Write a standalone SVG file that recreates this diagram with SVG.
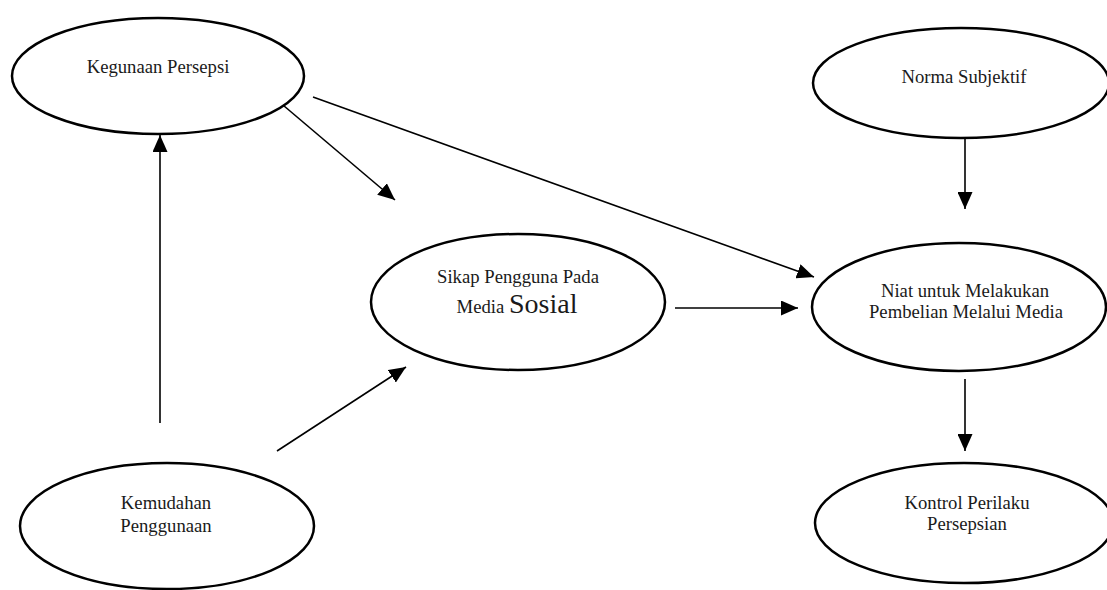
<svg xmlns="http://www.w3.org/2000/svg" width="1107" height="590" viewBox="0 0 1107 590">
<style>
.n{fill:#fff;stroke:#000;stroke-width:2.5}
.t{font-family:"Liberation Serif","Times New Roman",serif;font-size:18.7px;fill:#1a1a1a;text-anchor:middle}
.big{font-size:28px}
.c{stroke:#000;stroke-width:1.6;fill:none;marker-end:url(#ah)}
</style>
<defs>
<marker id="ah" markerUnits="userSpaceOnUse" markerWidth="17" markerHeight="15" refX="17" refY="7.5" orient="auto">
<path d="M0,0 L17,7.5 L0,15 z" fill="#000"/>
</marker>
</defs>
<rect width="1107" height="590" fill="#fff"/>
<g id="connectors">
<line class="c" x1="277" y1="100" x2="395" y2="200"/>
<line class="c" x1="313" y1="97" x2="814" y2="277"/>
<line class="c" x1="965" y1="138" x2="965" y2="209"/>
<line class="c" x1="675" y1="308" x2="798" y2="308"/>
<line class="c" x1="965" y1="379" x2="965" y2="451"/>
<line class="c" x1="160" y1="423" x2="160" y2="135"/>
<line class="c" x1="277" y1="451" x2="406" y2="367"/>
</g>
<g id="kegunaan">
<ellipse class="n" cx="158" cy="76" rx="146" ry="58"/>
<text class="t" x="158" y="73">Kegunaan Persepsi</text>
</g>
<g id="norma">
<ellipse class="n" cx="961" cy="83" rx="148" ry="55"/>
<text class="t" x="964" y="83">Norma Subjektif</text>
</g>
<g id="sikap">
<ellipse class="n" cx="518" cy="302" rx="147" ry="68"/>
<text class="t" x="518" y="283">Sikap Pengguna Pada</text>
<text class="t" x="517" y="313">Media <tspan class="big">Sosial</tspan></text>
</g>
<g id="niat">
<ellipse class="n" cx="959" cy="307" rx="147" ry="64"/>
<text class="t" x="965" y="297">Niat untuk Melakukan</text>
<text class="t" x="966" y="318">Pembelian Melalui Media</text>
</g>
<g id="kemudahan">
<ellipse class="n" cx="167" cy="526" rx="147" ry="63"/>
<text class="t" x="166" y="509">Kemudahan</text>
<text class="t" x="166" y="532">Penggunaan</text>
</g>
<g id="kontrol">
<ellipse class="n" cx="964" cy="523" rx="149" ry="60"/>
<text class="t" x="967" y="509">Kontrol Perilaku</text>
<text class="t" x="967" y="530">Persepsian</text>
</g>
</svg>
